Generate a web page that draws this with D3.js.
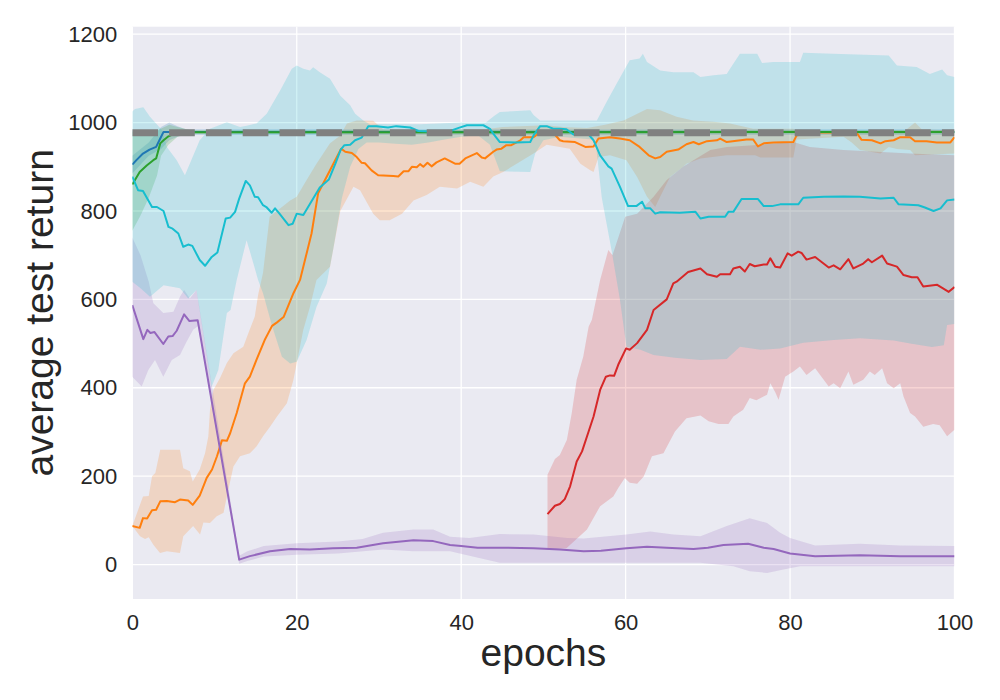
<!DOCTYPE html>
<html>
<head>
<meta charset="utf-8">
<script src="https://cdn.jsdelivr.net/npm/d3@7"></script>
<style>
  body { margin: 0; background: #fff; }
  svg { display: block; }
</style>
</head>
<body>
<svg id="chart" width="1000" height="700"></svg>
<script>
// x ticks / y ticks
var xTicks = [0, 20, 40, 60, 80, 100];
var yTicks = [0, 200, 400, 600, 800, 1000, 1200];
var refLevel = 977;

// each series: mean line + band (upper / lower), as [epoch, value]
var blueLine = [[0,905],[0.5,915],[1.3,930],[2.1,939],[2.9,945],[3.4,964],[3.8,979],[4.5,979],[100,979]];
var blueUpper = [[0,925],[2,955],[3.5,990],[4.5,1000],[5.5,992],[6.5,985],[100,985]];
var blueLower = [[0,885],[2,925],[3.5,940],[4.5,960],[6,972],[100,972]];

var orangeLine = [[0,87],[0.9,83],[1.3,105],[1.8,104],[2.4,123],[2.9,124],[3.4,143],[4.2,144],[5.2,141],[5.8,147],[6.8,145],[7.35,135],[8.2,156],[9.05,196],[9.7,215],[10.3,245],[10.9,281],[11.5,280],[11.9,297],[12.7,343],[13.7,410],[14.3,425],[15.1,463],[16.1,508],[17,540],[17.6,548],[18.4,560],[19,587],[19.6,614],[20.4,644],[21.2,704],[21.8,749],[22.6,840],[24.05,892],[25.4,941],[25.9,934],[26.7,931],[27.3,922],[27.9,909],[28.3,908],[29.1,892],[29.9,881],[31.75,879],[32.35,878],[33,890],[33.6,890],[34,900],[34.6,899],[35,906],[35.4,900],[35.9,909],[36.4,901],[37,910],[38,919],[39.25,907],[39.8,907],[40.5,919],[41.1,924],[41.9,931],[42.5,921],[42.9,919],[43.9,934],[44.3,939],[44.9,941],[45.5,949],[46.1,949],[47.2,960],[47.6,967],[48.8,967],[49.4,975],[50,977],[51.2,977],[52,960],[52.4,958],[53.85,956],[55.1,945],[56.1,946],[56.7,964],[58.1,967],[59.3,964],[60.5,960],[61.7,945],[62.8,926],[63.6,919],[64.2,922],[65,934],[66.4,939],[67.4,951],[68.25,956],[68.9,951],[69.9,958],[71.1,960],[71.5,964],[72.3,956],[74.7,962],[75.5,962],[76.1,946],[76.8,953],[78,955],[80.4,956],[80.8,971],[82.4,978],[88.1,977],[88.7,961],[89.95,960],[91,953],[91.6,958],[92.6,960],[93.4,967],[94.6,967],[95.2,958],[96.6,958],[97.85,955],[99.5,955],[100,967]];
var orangeUpper = [[0,87],[1.3,154],[2,155],[2.4,200],[2.8,207],[3.4,260],[5.8,260],[6.2,218],[7,211],[7.35,188],[8.2,215],[8.85,252],[9.25,290],[9.45,350],[9.86,395],[10.67,422],[11.5,456],[12.3,478],[13.5,493],[14.1,523],[14.9,561],[15.3,610],[15.9,660],[16.7,787],[19.2,824],[20,832],[21.2,870],[22.4,907],[24.05,953],[25.3,971],[26.1,998],[27.3,1005],[29.3,1004],[30.5,985],[35,982],[40,985],[43,985],[45,990],[50.4,994],[52.4,990],[55.3,988],[57.5,995],[59.75,1005],[62.6,1031],[64.2,1028],[66.2,1013],[68.2,1005],[70.7,1002],[72.7,998],[75.5,986],[80.4,986],[81,980],[94,982],[95.2,1000],[96,985],[100,982]];
var orangeLower = [[0,87],[0.94,64],[1.55,58],[2,62],[2.56,45],[3.37,26],[4.2,30],[5.8,26],[6.2,64],[7.4,87],[8.24,68],[8.65,95],[9.45,94],[10.27,109],[11.1,117],[11.5,154],[12.3,222],[13.1,245],[14.3,252],[15.1,267],[15.9,290],[16.75,312],[17.6,335],[18.8,365],[19.6,418],[20,456],[20.8,531],[21.6,583],[22.4,644],[24.05,674],[25.3,800],[26.9,855],[27.7,847],[29.3,794],[30.1,779],[31.3,779],[32.8,794],[34.2,824],[35.8,836],[37.4,855],[39.5,851],[41.1,866],[42.7,855],[43.9,878],[45.1,888],[48.8,930],[50.4,950],[52,945],[53.2,941],[54.5,907],[55.7,892],[56.1,888],[56.7,922],[58.1,926],[60.1,915],[61.4,877],[62.6,832],[63.6,809],[64.2,832],[65.4,877],[67,900],[67.4,907],[69.1,919],[72.3,926],[75.75,926],[76.4,921],[80.4,921],[80.8,962],[86.5,968],[87.5,955],[88.5,938],[91,930],[92,945],[93,940],[94.6,938],[95.2,926],[100,930]];

var greenLine = [[0,860],[0.9,888],[1.75,903],[2.55,915],[2.9,919],[3.4,953],[3.8,960],[4.4,969],[5,974],[6,978],[100,979]];
var greenUpper = [[0,980],[3,982],[4.5,995],[5.5,990],[7,983],[100,983]];
var greenLower = [[0,755],[1,790],[2,830],[3,880],[3.5,925],[4.4,950],[5.5,968],[7,974],[100,975]];

var redLine = [[50.5,114],[51.4,133],[52,137],[52.6,148],[53.25,177],[54.05,233],[54.7,256],[55.5,301],[56.1,335],[56.9,395],[57.6,425],[58.1,428],[58.6,427],[59.1,452],[60.06,489],[60.5,486],[61.4,501],[62.6,531],[63.4,576],[65,600],[65.8,636],[66.2,640],[67.6,662],[69.1,670],[69.9,657],[71.1,651],[71.5,657],[72.7,657],[73.1,670],[73.9,674],[74.5,663],[75.1,680],[75.7,675],[76.8,679],[77.2,679],[77.6,693],[78.2,674],[78.8,672],[79.7,704],[80.2,699],[81,708],[81.4,705],[82,690],[83.05,696],[84.7,672],[85.3,677],[86.1,668],[87.1,691],[87.7,670],[88.9,681],[89.5,691],[89.95,684],[91.2,699],[91.8,681],[93,674],[93.8,655],[94.8,650],[95.5,650],[96.2,629],[97.9,633],[99.3,617],[100,628]];
var redUpper = [[50.5,203],[51.4,239],[52,248],[52.85,282],[53.45,343],[54.05,418],[54.85,471],[55.5,538],[55.9,554],[56.9,644],[57.9,712],[58.4,700],[59.95,787],[61.4,794],[63.4,832],[65,870],[67,900],[68.25,915],[70.3,938],[72.3,945],[76.4,950],[80.4,956],[82.4,945],[86.5,938],[90.6,934],[94.6,930],[100,926]];
var redLower = [[50.5,34],[52.8,37],[55.3,79],[56.9,132],[58.5,154],[59.1,173],[59.9,196],[60.5,185],[61.4,183],[62.2,199],[63.2,245],[64.6,252],[66,301],[67.4,331],[69.1,337],[70.1,324],[71.3,318],[72.5,318],[73.1,335],[74.3,350],[75.1,377],[75.9,372],[77.2,384],[77.6,410],[78.2,390],[78.6,373],[79.4,425],[80.4,437],[81.2,448],[82,429],[83.05,444],[84.7,403],[85.3,410],[86.1,399],[87.1,437],[87.7,407],[88.9,418],[89.7,437],[90.3,429],[91.2,444],[91.8,410],[92.6,399],[93.4,410],[93.8,380],[94.6,343],[95.2,335],[96.2,312],[97.4,318],[98.2,315],[99.1,290],[100,305]];

var purpleLine = [[0,587],[1.34,510],[1.83,531],[2.2,524],[2.7,526],[3.77,499],[4.38,516],[4.9,517],[5.4,529],[6.3,566],[6.95,551],[7.95,553],[13,11],[14.3,19],[16.75,30],[19.2,35],[21.6,34],[24.4,37],[27.3,38],[30.5,48],[34.2,55],[36.6,53],[38.65,44],[40,42],[42,38],[44.7,38],[48.8,37],[52,34],[54.9,30],[57,31],[60.1,37],[62.6,40],[65,38],[68.25,35],[70,38],[71.9,44],[74.9,47],[76.8,38],[78,35],[80,25],[83.05,19],[88.5,21],[93.4,19],[100,19]];
var purpleUpper = [[0,740],[1,700],[2,640],[2.56,591],[3.77,569],[5,572],[5.8,606],[6.3,621],[7,602],[7.8,621],[8,600],[13,20],[14,30],[16,42],[20,48],[25,52],[28,58],[30.5,72],[34.2,79],[36.6,79],[38.65,63],[41,60],[44.7,69],[48.8,68],[52.9,60],[54.9,59],[60.1,68],[63,75],[65.8,68],[69.1,64],[72.3,87],[75.1,105],[77.2,94],[78.8,72],[80,60],[83.05,43],[88.5,47],[93.4,43],[100,42]];
var purpleLower = [[0,425],[1.14,403],[1.95,440],[2.76,463],[3.77,425],[4.8,463],[5.8,474],[6.6,504],[7.4,531],[8,540],[13,2],[14,8],[16,18],[20,22],[25,25],[30.5,34],[34.2,30],[38.65,30],[41,20],[44.7,4],[52.9,4],[60.1,4],[69.1,4],[73.1,-4],[75.1,-15],[77.2,-19],[79.2,-11],[81.2,-4],[100,-4]];

var cyanLine = [[0,878],[0.7,847],[1.3,845],[2.4,809],[3,809],[3.8,800],[4.4,764],[4.9,760],[5.6,749],[6.2,719],[6.8,724],[7.3,721],[8.2,689],[8.85,676],[9.66,696],[10.35,706],[11.36,783],[11.9,785],[12.5,798],[13,828],[13.8,868],[14.3,858],[14.9,832],[15.3,831],[15.9,813],[16.3,809],[16.95,796],[17.36,806],[17.9,794],[19,768],[19.5,771],[20,794],[20.8,791],[22.8,853],[23.9,871],[24.7,907],[25.35,939],[25.8,949],[26.5,950],[27.1,960],[27.9,966],[28.7,992],[29.7,992],[31.1,989],[32.1,992],[33.8,989],[34.8,981],[36.2,980],[38.65,981],[39.7,988],[40.7,994],[42.7,994],[43.5,986],[43.9,975],[44.7,956],[46.7,955],[48.4,956],[48.8,971],[49.6,992],[50.4,992],[51.2,986],[52,986],[52.8,985],[53.65,973],[55.5,973],[56.1,960],[56.9,926],[57.9,901],[58.3,896],[59.3,855],[60.3,811],[61.3,811],[62,821],[62.4,806],[63,806],[63.6,794],[64.2,797],[66.6,796],[68.5,798],[69.1,783],[70.1,787],[72.1,787],[72.5,798],[73.1,798],[74.1,827],[76.1,827],[76.8,811],[77.8,811],[78.8,815],[81,815],[81.6,830],[84.1,832],[86.5,833],[88.5,832],[91,828],[92.6,830],[93.2,815],[95.6,813],[96.4,808],[97.45,800],[98.3,806],[99.1,824],[100,826]];
var cyanUpper = [[0,1025],[0.33,1031],[1.34,1035],[2.15,1013],[3.6,983],[4.2,945],[5.4,915],[6.4,881],[8.2,960],[9.45,986],[11.5,1001],[13.1,990],[13.9,993],[15.1,998],[16.35,1020],[18,1073],[19.4,1122],[20,1129],[20.8,1122],[21.6,1118],[22,1125],[22.8,1114],[24.05,1099],[25.3,1061],[26.5,1039],[27.1,1020],[28.1,1005],[29,995],[30,997],[35,996],[40,1000],[43,1000],[44,1015],[44.7,1024],[48.4,1028],[48.8,1017],[49.6,1005],[52.9,1005],[56.5,1005],[57.7,1047],[58.9,1088],[60.5,1141],[61.7,1145],[62.1,1156],[62.6,1137],[64.2,1118],[65.8,1114],[68.25,1114],[69.1,1103],[70.7,1107],[72.3,1110],[72.7,1122],[73.9,1156],[76,1156],[76.6,1135],[78,1137],[81.2,1137],[81.6,1158],[85.2,1156],[92,1152],[93,1129],[95.4,1126],[97,1110],[98.5,1120],[99.1,1107],[100,1103]];
var cyanLower = [[0,640],[1,625],[2.15,606],[3.8,632],[5.8,625],[6.8,602],[7.8,621],[8.44,546],[9.66,403],[10.46,440],[11.5,569],[11.95,576],[12.7,644],[13.9,734],[14.5,696],[15.3,644],[15.9,614],[17,540],[18.2,470],[19.2,455],[20,459],[21.2,508],[22.4,583],[23.65,636],[24.5,720],[25.5,830],[26.5,900],[27.5,940],[28.5,955],[30,955],[32,952],[34,950],[36,955],[38,962],[40,968],[42,972],[43.5,950],[44.7,890],[48.4,888],[49,930],[50,960],[52,968],[56,962],[56.3,965],[57.1,830],[58.3,710],[59.3,600],[60.1,493],[61.8,486],[63.4,474],[66,468],[69.1,463],[72.3,465],[73.9,493],[76.4,486],[78.8,489],[81.6,502],[85.3,508],[88.5,512],[92.6,507],[94.6,500],[97.25,492],[98.7,496],[99.1,542],[100,544]];

var margin = { top: 26.7, left: 132.3, right: 45.5, bottom: 101 };
var width = 1000 - margin.left - margin.right;
var height = 700 - margin.top - margin.bottom;

var svg = d3.select("#chart");
var g = svg.append("g")
  .attr("transform", "translate(" + margin.left + "," + margin.top + ")");

var x = d3.scaleLinear().domain([0, 100]).range([0, width]);
var y = d3.scaleLinear().domain([-78, 1217]).range([height, 0]);

// background
g.append("rect")
  .attr("width", width)
  .attr("height", height)
  .attr("fill", "#eaeaf2");

g.append("defs").append("clipPath")
  .attr("id", "plotClip")
  .append("rect")
  .attr("width", width)
  .attr("height", height);

// grid lines
g.selectAll(".gx")
  .data(xTicks)
  .enter()
  .append("line")
  .attr("class", "gx")
  .attr("x1", function(d) { return x(d); })
  .attr("x2", function(d) { return x(d); })
  .attr("y1", 0)
  .attr("y2", height)
  .attr("stroke", "#fff")
  .attr("stroke-width", 1.3);

g.selectAll(".gy")
  .data(yTicks)
  .enter()
  .append("line")
  .attr("class", "gy")
  .attr("x1", 0)
  .attr("x2", width)
  .attr("y1", function(d) { return y(d); })
  .attr("y2", function(d) { return y(d); })
  .attr("stroke", "#fff")
  .attr("stroke-width", 1.3);

var plot = g.append("g").attr("clip-path", "url(#plotClip)");

var line = d3.line()
  .x(function(d) { return x(d[0]); })
  .y(function(d) { return y(d[1]); });

// band = upper edge forward, lower edge back
function bandPath(upper, lower) {
  return line(upper.concat(lower.slice().reverse())) + "Z";
}

var series = [
  { color: "#1f77b4", line: blueLine, upper: blueUpper, lower: blueLower },
  { color: "#ff7f0e", line: orangeLine, upper: orangeUpper, lower: orangeLower },
  { color: "#2ca02c", line: greenLine, upper: greenUpper, lower: greenLower },
  { color: "#d62728", line: redLine, upper: redUpper, lower: redLower },
  { color: "#9467bd", line: purpleLine, upper: purpleUpper, lower: purpleLower },
  { color: "#17becf", line: cyanLine, upper: cyanUpper, lower: cyanLower }
];

// bands go under every line
series.forEach(function(s) {
  plot.append("path")
    .attr("d", bandPath(s.upper, s.lower))
    .attr("fill", s.color)
    .attr("fill-opacity", 0.2)
    .attr("stroke", "none");
});

series.forEach(function(s) {
  plot.append("path")
    .attr("d", line(s.line))
    .attr("fill", "none")
    .attr("stroke", s.color)
    .attr("stroke-width", 2)
    .attr("stroke-linejoin", "round");
});

// reference level, thick gray dashes
plot.append("line")
  .attr("x1", x(0))
  .attr("x2", x(100))
  .attr("y1", y(refLevel))
  .attr("y2", y(refLevel))
  .attr("stroke", "#808080")
  .attr("stroke-width", 7)
  .attr("stroke-dasharray", "25.7,11.1");

// axes (no ticks, no spines)
var xAxis = g.append("g")
  .attr("transform", "translate(0," + height + ")")
  .call(d3.axisBottom(x).tickValues(xTicks).tickSize(0).tickPadding(15).tickFormat(d3.format("d")));
var yAxis = g.append("g")
  .call(d3.axisLeft(y).tickValues(yTicks).tickSize(0).tickPadding(15).tickFormat(d3.format("d")));

[xAxis, yAxis].forEach(function(a) {
  a.select(".domain").remove();
  a.selectAll("text")
    .attr("fill", "#262626")
    .style("font-family", "'Liberation Sans', Arial, sans-serif")
    .style("font-size", "22px");
});

svg.append("text")
  .attr("x", margin.left + width / 2)
  .attr("y", 666)
  .attr("text-anchor", "middle")
  .attr("fill", "#262626")
  .style("font-family", "'Liberation Sans', Arial, sans-serif")
  .style("font-size", "39px")
  .text("epochs");

svg.append("text")
  .attr("transform", "translate(53," + (margin.top + height / 2) + ") rotate(-90)")
  .attr("text-anchor", "middle")
  .attr("fill", "#262626")
  .style("font-family", "'Liberation Sans', Arial, sans-serif")
  .style("font-size", "39px")
  .text("average test return");
</script>
</body>
</html>
